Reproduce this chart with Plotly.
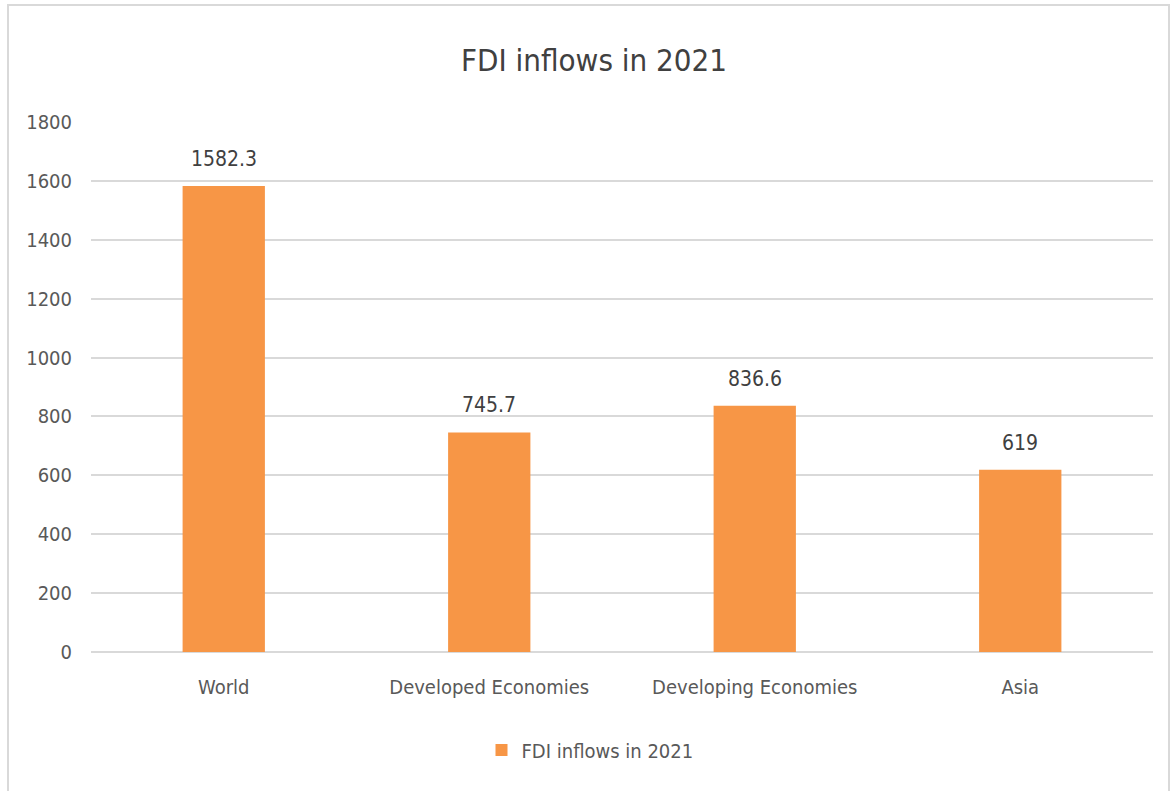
import plotly.graph_objects as go

categories = ["World", "Developed Economies", "Developing Economies", "Asia"]
values = [1582.3, 745.7, 836.6, 619]
value_labels = ["1582.3", "745.7", "836.6", "619"]
y_ticks = [0, 200, 400, 600, 800, 1000, 1200, 1400, 1600, 1800]
series_name = "FDI inflows in 2021"

FONT = "DejaVu Sans Condensed, Liberation Sans Narrow, sans-serif"
GRAY = "#595959"

fig = go.Figure()
fig.add_trace(go.Bar(
    x=categories, y=values, name=series_name,
    marker=dict(color="#F79646", line=dict(width=0)),
    width=0.31,
    cliponaxis=False,
))

for c, v, t in zip(categories, values, value_labels):
    fig.add_annotation(x=c, y=v, text=t, showarrow=False, yanchor="bottom",
                       yshift=13, font=dict(size=21, color="#404040", family=FONT))

L, R, T, B = 91, 18, 122, 139
W, H = 1171, 791
pw, ph = W - L - R, H - T - B

fig.update_layout(
    width=W, height=H,
    margin=dict(l=L, r=R, t=T, b=B),
    paper_bgcolor="white", plot_bgcolor="white",
    font=dict(family=FONT, color=GRAY, size=20),
    title=dict(text="FDI inflows in 2021", x=594 / W, xanchor="center",
               y=1 - 60 / H, yanchor="middle",
               font=dict(size=31, color="#404040", family=FONT)),
    showlegend=True,
    legend=dict(orientation="h", x=(590 - L) / pw, xanchor="center",
                y=-(750 - (T + ph)) / ph, yanchor="middle",
                font=dict(size=20, color=GRAY, family=FONT),
                itemwidth=30),
    xaxis=dict(showgrid=False, showline=False, ticks="", ticklabelstandoff=21,
               tickfont=dict(size=20, color=GRAY)),
    yaxis=dict(range=[0, 1800], tickvals=y_ticks, showgrid=True, gridcolor="#D9D9D9",
               gridwidth=2, zeroline=True, zerolinecolor="#D9D9D9", zerolinewidth=2,
               showline=False, ticks="", ticklabelstandoff=18,
               tickfont=dict(size=20, color=GRAY)),
    shapes=[dict(type="rect", xref="paper", yref="paper",
                 x0=(8 - L) / pw, x1=(1169 - L) / pw,
                 y0=(T + ph - 800) / ph, y1=(T + ph - 5) / ph,
                 line=dict(color="#D9D9D9", width=2), fillcolor="rgba(0,0,0,0)", layer="below")],
)

fig.write_html("out.html")
